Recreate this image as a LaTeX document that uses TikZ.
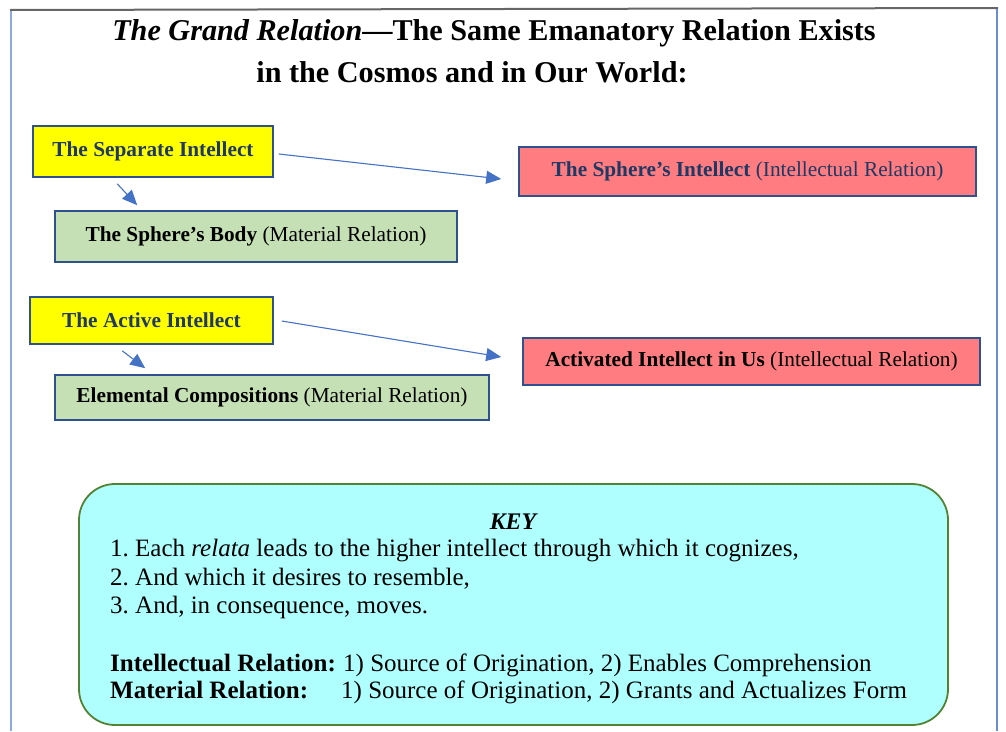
\documentclass[tikz,border=0pt]{standalone}
\usepackage{fontspec}
\setmainfont{Liberation Serif}
\usetikzlibrary{arrows.meta,calc}
\definecolor{navy}{HTML}{1F3864}
\definecolor{boxedge}{HTML}{2F528F}
\definecolor{yel}{HTML}{FFFF00}
\definecolor{grn}{HTML}{C5E0B4}
\definecolor{pnk}{HTML}{FF7C80}
\definecolor{cyanbg}{HTML}{AFFFFF}
\definecolor{keyedge}{HTML}{548235}
\definecolor{arr}{HTML}{4472C4}
\definecolor{frameblue}{HTML}{8EA9DB}
\frenchspacing
\begin{document}
\begin{tikzpicture}[x=1pt,y=-1pt,
  cell/.style={draw=boxedge,line width=1.6pt,inner sep=0pt,align=center,
    font=\fontsize{21.3}{25}\selectfont},
  yelbox/.style={cell,fill=yel,text=navy},
  grnbox/.style={cell,fill=grn,text=black},
  pnkbox/.style={cell,fill=pnk},
  link/.style={draw=arr,line width=1.1pt,-{Triangle[length=15pt,width=13pt]}},
  keytext/.style={anchor=base west,inner sep=0pt,font=\fontsize{25}{29}\selectfont}]
\useasboundingbox (0,0) rectangle (1006,731);
% frame
\draw[frameblue,line width=2pt] (11,10) -- (11,731);
\draw[arr!80,line width=2pt] (997,8) -- (997,731);
\draw[gray!80!black,line width=2pt] (10,10) -- (998,8);
% title
\node[anchor=base,inner sep=0pt,font=\fontsize{30.2}{36}\selectfont\bfseries] (t1) at (494,40)
  {\textit{The Grand Relation}---The Same Emanatory Relation Exists};
\node[anchor=base,inner sep=0pt,font=\fontsize{30.2}{36}\selectfont\bfseries] (t2) at (472,82)
  {in the Cosmos and in Our World:};
% boxes
\node[yelbox,minimum width=240pt,minimum height=51pt] (sep) at (153,151.5) {\bfseries The Separate Intellect};
\node[grnbox,minimum width=402pt,minimum height=51pt] (body) at (256,236.5) {\textbf{The Sphere’s Body} (Material Relation)};
\node[pnkbox,text=navy,minimum width=457pt,minimum height=49pt] (sint) at (747.5,171.5) {\textbf{The Sphere’s Intellect} (Intellectual Relation)};
\node[yelbox,minimum width=243pt,minimum height=47pt] (act) at (151.5,320.5) {\bfseries The Active Intellect};
\node[grnbox,minimum width=434pt,minimum height=45pt] (elem) at (272,397.5) {\textbf{Elemental Compositions} (Material Relation)};
\node[pnkbox,text=black,minimum width=457pt,minimum height=47pt] (aint) at (751.5,361.5) {\textbf{Activated Intellect in Us} (Intellectual Relation)};
% arrows
\draw[link] ($(sep.east)+(5,2.5)$) -- ($(sint.west)+(-17,7.5)$);
\draw[link] ($(sep.south west)+(85,6)$) -- ($(body.north west)+(83,-5)$);
\draw[link] ($(act.east)+(8,0.5)$) -- ($(aint.west)+(-21,-4.5)$);
\draw[link] ($(act.south west)+(93,6)$) -- ($(elem.north west)+(91,-6)$);
% key
\node[draw=keyedge,line width=1.8pt,fill=cyanbg,rounded corners=36pt,
  minimum width=869pt,minimum height=241pt] (key) at (513.5,604.5) {};
\node[anchor=base,inner sep=0pt,font=\fontsize{23.8}{28}\selectfont\bfseries\itshape] (keyt) at (513,529) {KEY};
\node[keytext] (k1) at (110,556) {1. Each \textit{relata} leads to the higher intellect through which it cognizes,};
\node[keytext] (k2) at (110,585) {2. And which it desires to resemble,};
\node[keytext] (k3) at (110,613) {3. And, in consequence, moves.};
\node[keytext] (k4) at (110,671) {\makebox[233pt][l]{\bfseries Intellectual Relation:}1) Source of Origination, 2) Enables Comprehension};
\node[keytext] (k5) at (110,698) {\makebox[231pt][l]{\bfseries Material Relation:}1) Source of Origination, 2) Grants and Actualizes Form};
\end{tikzpicture}
\end{document}
